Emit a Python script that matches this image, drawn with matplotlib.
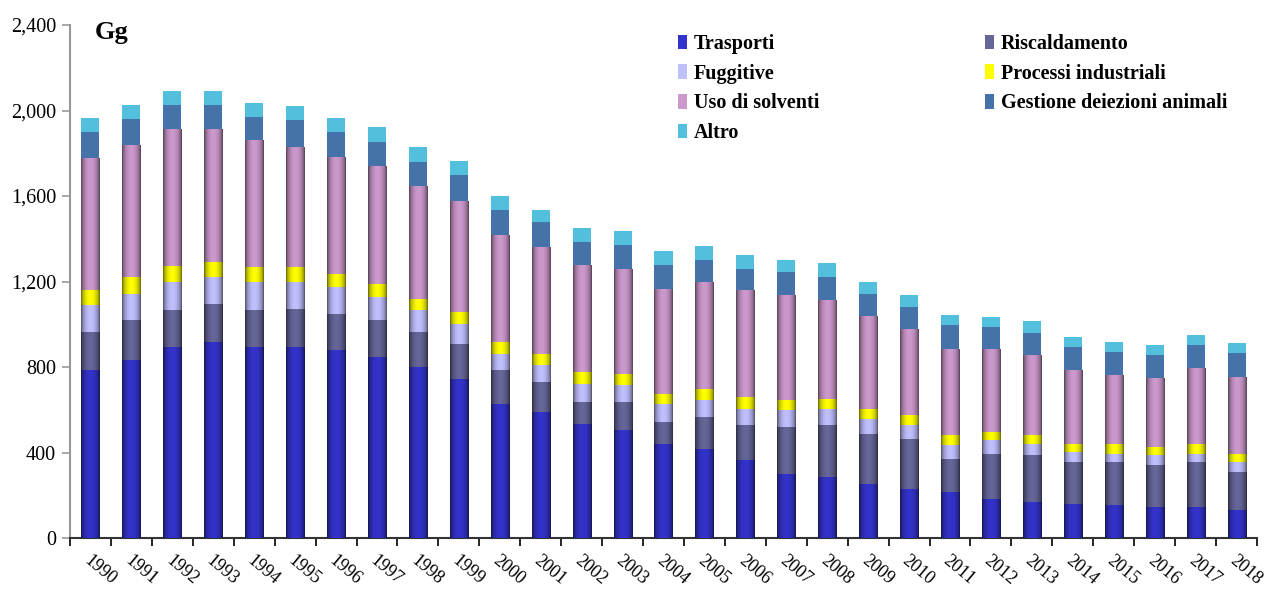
import numpy as np
import matplotlib
matplotlib.use("Agg")
import matplotlib.pyplot as plt
from matplotlib.patches import Patch
from matplotlib.colors import to_rgb

years = [str(y) for y in range(1990, 2019)]

trasporti = [786, 833, 893, 917, 893, 893, 879, 847, 800, 744, 627, 589, 533, 505, 440,
             416, 365, 299, 285, 253, 229, 215, 182, 168, 159, 154, 145, 145, 131]
riscaldamento = [178, 187, 174, 178, 174, 178, 169, 173, 164, 164, 159, 141, 103, 131, 103,
                 150, 164, 220, 244, 234, 234, 155, 211, 220, 197, 202, 196, 211, 178]
fuggitive = [126, 121, 131, 126, 131, 127, 126, 107, 103, 93, 75, 79, 84, 80, 84,
             80, 74, 80, 74, 70, 66, 65, 65, 52, 46, 37, 47, 37, 47]
processi = [70, 80, 74, 70, 70, 70, 61, 61, 51, 56, 56, 52, 57, 51, 47,
            51, 57, 47, 47, 46, 46, 47, 38, 42, 38, 47, 38, 47, 37]
solventi = [613, 617, 637, 618, 594, 561, 547, 548, 524, 515, 500, 500, 500, 491, 491,
            496, 500, 491, 463, 431, 398, 402, 384, 374, 346, 322, 322, 355, 360]
gestione = [126, 122, 117, 117, 107, 126, 117, 117, 117, 126, 117, 117, 108, 113, 112,
            107, 98, 107, 108, 107, 108, 112, 107, 103, 108, 108, 108, 108, 112]
altro = [66, 66, 65, 65, 66, 66, 66, 70, 70, 66, 66, 56, 65, 65, 66,
         66, 66, 56, 65, 57, 56, 47, 47, 56, 46, 47, 47, 47, 47]

labels = ["Trasporti", "Riscaldamento", "Fuggitive", "Processi industriali",
          "Uso di solventi", "Gestione deiezioni animali", "Altro"]
series = [trasporti, riscaldamento, fuggitive, processi, solventi, gestione, altro]
colors = ["#3333CC", "#666699", "#C0C0FF", "#FFFF00", "#CC99CC", "#4572A9", "#52BFDC"]
shaded = [True, True, True, True, True, False, False]

plt.rcParams['font.family'] = ['Liberation Serif', 'DejaVu Serif']

fig = plt.figure(figsize=(12.71, 5.90), dpi=100)
ax = fig.add_axes([70 / 1271, 52 / 590, 1187 / 1271, 513 / 590])

x = np.arange(len(years))
width = 0.44

# horizontal shading profile for cylinder-like bars
t = np.linspace(0, 1, 64)
profile = np.clip(np.sin(np.pi * t) ** 0.55, 0, 1)

bottom = np.zeros(len(years))
for vals, col, lab, sh in zip(series, colors, labels, shaded):
    vals = np.array(vals, dtype=float)
    bars = ax.bar(x, vals, width, bottom=bottom, color=col, label=lab,
                  linewidth=0, zorder=2)
    if sh:
        c = np.array(to_rgb(col))
        dark = c * 0.35
        grad = dark[None, :] + (c - dark)[None, :] * profile[:, None]
        img = grad[None, :, :]
        for b in bars:
            x0, y0 = b.get_x(), b.get_y()
            w, h = b.get_width(), b.get_height()
            ax.imshow(img, extent=[x0, x0 + w, y0, y0 + h], aspect='auto',
                      interpolation='bilinear', zorder=3)
    bottom += vals

ax.set_xlim(-0.5, len(years) - 0.5)
ax.set_ylim(0, 2400)
ax.set_yticks(np.arange(0, 2401, 400))
ax.yaxis.set_major_formatter(matplotlib.ticker.FuncFormatter(lambda v, p: f"{int(v):,}"))
ax.tick_params(axis='y', labelsize=14.5, color='#999999', length=6, width=1.2, pad=4)

ax.set_xticks(x)
ax.set_xticklabels(years, rotation=-40, ha='left', va='top', rotation_mode='anchor',
                   fontsize=13)
ax.set_xticks(np.arange(-0.5, len(years), 1.0), minor=True)
ax.tick_params(axis='x', which='major', length=0, pad=10)
ax.tick_params(axis='x', which='minor', length=6, width=1.2, color='black')
offset = matplotlib.transforms.ScaledTranslation(1 / 100, 0, fig.dpi_scale_trans)
for lbl in ax.get_xticklabels():
    lbl.set_transform(lbl.get_transform() + offset)

for s in ['top', 'right']:
    ax.spines[s].set_visible(False)
ax.spines['left'].set_color('#999999')
ax.spines['left'].set_linewidth(1.5)
ax.spines['bottom'].set_color('#333333')
ax.spines['bottom'].set_linewidth(1.5)

fig.text(95 / 1271, 1 - 33 / 590, "Gg", fontsize=19, fontweight='bold',
         va='center', ha='left')

handles = [Patch(facecolor=c, edgecolor='none') for c in colors]
order = [0, 2, 4, 6, 1, 3, 5]
leg = ax.legend([handles[i] for i in order], [labels[i] for i in order],
                ncol=2, loc='upper left', bbox_to_anchor=(678 / 1271, 1 - 34 / 590),
                bbox_transform=fig.transFigure, frameon=False,
                prop={'weight': 'bold', 'size': 14.5}, handlelength=0.45,
                handleheight=0.75, handletextpad=0.35, columnspacing=8.2,
                labelspacing=0.48, borderaxespad=0, borderpad=0)

fig.savefig("out.png", dpi=100)
